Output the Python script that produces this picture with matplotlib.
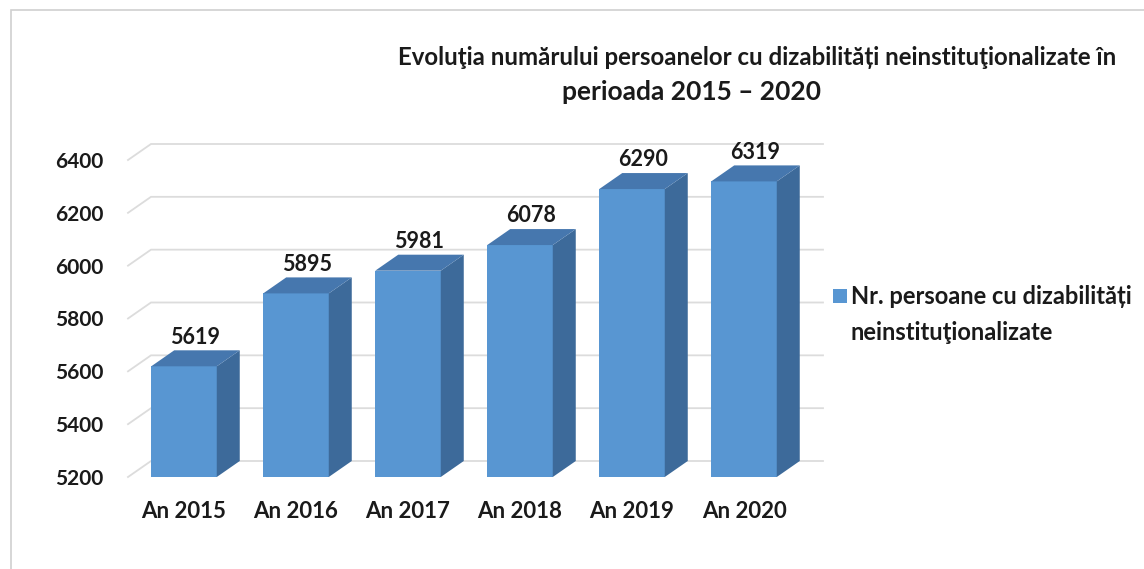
import matplotlib
matplotlib.use("Agg")
import matplotlib.pyplot as plt
from matplotlib.patches import Polygon, Rectangle
import numpy as np

categories = ["An 2015", "An 2016", "An 2017", "An 2018", "An 2019", "An 2020"]
values = [5619, 5895, 5981, 6078, 6290, 6319]
yticks = [5200, 5400, 5600, 5800, 6000, 6200, 6400]
title_line1 = "Evoluţia numărului persoanelor cu dizabilități neinstituţionalizate în"
title_line2 = "perioada 2015 – 2020"
legend_label = ["Nr. persoane cu dizabilități", "neinstituţionalizate"]

W, H = 1144, 569
plt.rcParams['font.family'] = ['Lato', 'DejaVu Sans']
plt.rcParams['font.weight'] = 'bold'

FRONT = "#5896D2"
TOP = "#4677AE"
SIDE = "#3D6A9A"
GRID = "#DCDCDC"
TXT = "#1a1a1a"

fig = plt.figure(figsize=(W / 100, H / 100), dpi=100)
fig.patch.set_facecolor("white")

# axes geometry in pixels (front plane)
ax_l, ax_r, ax_b, ax_t = 128, 800, 569 - 477, 569 - 160
ax = fig.add_axes([ax_l / W, ax_b / H, (ax_r - ax_l) / W, (ax_t - ax_b) / H])
ax.set_xlim(-0.5, len(categories) - 0.5)
ax.set_ylim(yticks[0], yticks[-1])
for s in ax.spines.values():
    s.set_visible(False)
ax.set_facecolor("none")

# depth offset in data units
dpx, dpy = 23, 16
xr = (ax.get_xlim()[1] - ax.get_xlim()[0]) / (ax_r - ax_l)
yr = (ax.get_ylim()[1] - ax.get_ylim()[0]) / (ax_t - ax_b)
ddx, ddy = dpx * xr, dpy * yr

x0, x1 = ax.get_xlim()
for v in yticks:
    ax.plot([x0, x0 + ddx, x1 + ddx], [v, v + ddy, v + ddy], color=GRID,
            lw=1.3, zorder=1, clip_on=False, solid_joinstyle="miter")

bw = 0.585
xs = np.arange(len(categories))
base = yticks[0]
ax.bar(xs, [v - base for v in values], bottom=base, width=bw, color=FRONT,
       zorder=3, linewidth=0)
for x, v in zip(xs, values):
    l, r = x - bw / 2, x + bw / 2
    side = Polygon([(r, base), (r + ddx, base + ddy), (r + ddx, v + ddy), (r, v)],
                   closed=True, facecolor=SIDE, edgecolor="none", zorder=3, clip_on=False)
    top = Polygon([(l, v), (l + ddx, v + ddy), (r + ddx, v + ddy), (r, v)],
                  closed=True, facecolor=TOP, edgecolor="none", zorder=3, clip_on=False)
    ax.add_patch(side)
    ax.add_patch(top)
    ax.annotate(f"{v}", xy=(x + ddx / 2, v + ddy), xytext=(0, 2),
                textcoords="offset points", ha="center", va="bottom",
                fontsize=15.5, fontweight="bold", color=TXT, clip_on=False, zorder=5)

ax.set_xticks(xs)
ax.set_xticklabels(categories, fontsize=16, fontweight="bold", color=TXT)
ax.set_yticks(yticks)
ax.set_yticklabels([str(t) for t in yticks], fontsize=15, fontweight="bold", color=TXT)
ax.tick_params(axis="both", length=0)
ax.tick_params(axis="y", pad=18)
ax.tick_params(axis="x", pad=17)

# title
fig.text(398 / W, 1 - 57 / H, title_line1, ha="left", va="center",
         fontsize=17.3, fontweight="bold", color=TXT)
fig.text(691 / W, 1 - 92 / H, title_line2, ha="center", va="center",
         fontsize=19, fontweight="bold", color=TXT)

# legend
fig.add_artist(Rectangle((833 / W, 1 - 303 / H), 14 / W, 14 / H,
                         transform=fig.transFigure, facecolor=FRONT, edgecolor="none"))
fig.text(851 / W, 1 - 296 / H, legend_label[0], ha="left", va="center",
         fontsize=17, fontweight="bold", color=TXT)
fig.text(851 / W, 1 - 333 / H, legend_label[1], ha="left", va="center",
         fontsize=17, fontweight="bold", color=TXT)

# chart border
fig.add_artist(Rectangle((11 / W, -0.05), 1.1, 1 - 10 / H + 0.05,
                         transform=fig.transFigure, facecolor="none",
                         edgecolor="#D0D0D0", lw=1.2))

fig.savefig("out.png", dpi=100)
